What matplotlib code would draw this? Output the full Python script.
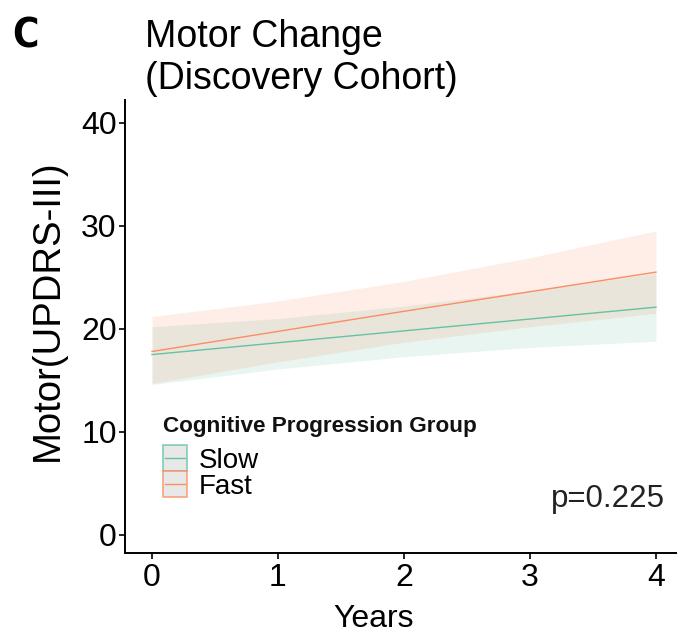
import numpy as np
import matplotlib
matplotlib.use('Agg')
import matplotlib.pyplot as plt
from matplotlib.patches import Rectangle
from matplotlib.lines import Line2D

plt.rcParams['font.family'] = ['Liberation Sans', 'DejaVu Sans']

# data
years = [0, 1, 2, 3, 4]
slow_mean = [17.5, 18.65, 19.8, 20.95, 22.1]
slow_lo = [14.6, 16.1, 17.3, 18.2, 18.8]
slow_hi = [20.2, 21.0, 22.2, 23.7, 25.4]
fast_mean = [17.8, 19.75, 21.7, 23.6, 25.5]
fast_lo = [14.7, 16.8, 18.7, 20.2, 21.5]
fast_hi = [21.2, 22.7, 24.6, 26.9, 29.5]
groups = ['Slow', 'Fast']
colors = ['#66C2A5', '#FC8D62']
p_text = 'p=0.225'

W, H = 677, 639
fig = plt.figure(figsize=(W / 100, H / 100), dpi=100)


def fx(px):
    return px / W


def fy(py):
    return 1 - py / H


ax = fig.add_axes([fx(125), fy(553), 1 - fx(125), fy(100) - fy(553)])

series = [(slow_mean, slow_lo, slow_hi), (fast_mean, fast_lo, fast_hi)]
for (m, lo, hi), c in zip(series, colors):
    ax.fill_between(years, lo, hi, color=c, alpha=0.15, linewidth=0)
for (m, lo, hi), c in zip(series, colors):
    ax.plot(years, m, color=c, linewidth=1.0)

ax.set_xlim(-0.214, 4.167)
ax.set_ylim(-1.75, 42.2)
ax.set_xticks([0, 1, 2, 3, 4])
ax.set_yticks([0, 10, 20, 30, 40])
ax.spines['top'].set_visible(False)
ax.spines['right'].set_visible(False)
for s in ['left', 'bottom']:
    ax.spines[s].set_linewidth(1.4)
ax.tick_params(axis='both', direction='out', length=4, width=1.2, labelsize=23)
ax.tick_params(axis='y', pad=2)
ax.tick_params(axis='x', pad=3)
ax.set_xlabel('Years', fontsize=23)
ax.xaxis.set_label_coords(0.451, -0.112)
ax.set_ylabel('Motor(UPDRS-III)', fontsize=27.5)
ax.yaxis.set_label_coords(-0.107, 0.536)

ax.text(4.07, 2.7, p_text, fontsize=22.5, ha='right', va='baseline', color='#222222')

# legend drawn by hand
fig.text(fx(163), fy(432), 'Cognitive Progression Group', fontsize=16.2,
         fontweight='bold', ha='left', va='baseline', color='#111111')
key_top = [445, 471]
for name, c, kt in zip(groups, colors, key_top):
    r = Rectangle((fx(163), fy(kt + 26)), fx(24), fy(0) - fy(26),
                  transform=fig.transFigure, facecolor='#E3E3E3',
                  edgecolor=c, linewidth=1.2, alpha=0.8)
    fig.add_artist(r)
    fig.add_artist(Line2D([fx(165), fx(185)], [fy(kt + 13)] * 2,
                          transform=fig.transFigure, color=c, linewidth=1.0))
    fig.text(fx(199), fy(kt + 23), name, fontsize=20, ha='left', va='baseline')

# title and panel letter
fig.text(fx(145), fy(47), 'Motor Change', fontsize=27, ha='left', va='baseline')
fig.text(fx(145), fy(89), '(Discovery Cohort)', fontsize=27, ha='left', va='baseline')
fig.text(fx(12), fy(47), 'C', fontsize=29, fontweight='bold', ha='left', va='baseline',
         family=['DejaVu Sans'], fontstretch='condensed')

fig.savefig('out.png', dpi=100)
